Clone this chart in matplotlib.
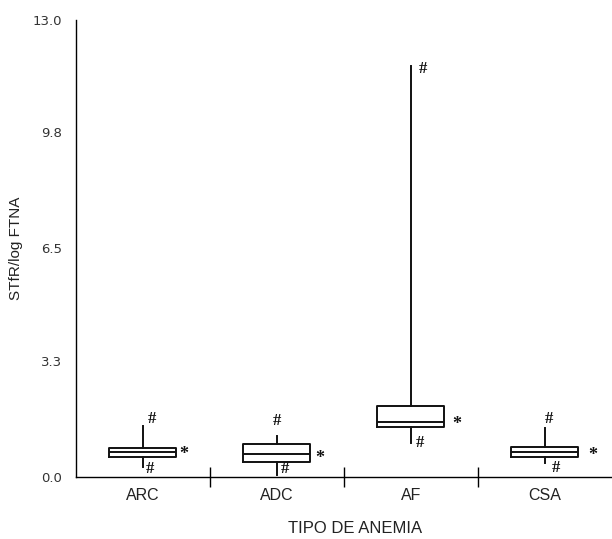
import matplotlib
matplotlib.use("Agg")
import matplotlib.pyplot as plt

# box summaries
categories = ['ARC', 'ADC', 'AF', 'CSA']
q1 = [0.56, 0.44, 1.41, 0.56]
med = [0.72, 0.65, 1.56, 0.72]
q3 = [0.83, 0.94, 2.02, 0.845]
whislo = [0.28, 0.06, 0.96, 0.41]
whishi = [1.46, 1.17, 11.69, 1.38]
ytick_vals = [0.0, 3.3, 6.5, 9.8, 13.0]

# where the marks sit next to whisker ends / boxes (pixels)
hi_off = [(9, 7), (0, 15), (12, -3), (4, 9)]
lo_off = [(7, -2), (8, 6), (9, 0), (11, -5)]
star_off = [(7, -3), (9, -4), (12, -2), (14, -4)]

fig = plt.figure(figsize=(6.12, 5.39), dpi=100)
ax = fig.add_axes([0.124, 0.115, 0.876, 0.848])

stats = []
for i, c in enumerate(categories):
    stats.append(dict(label=c, q1=q1[i], med=med[i], q3=q3[i],
                      whislo=whislo[i], whishi=whishi[i], fliers=[]))
pos = [i + 0.5 for i in range(len(categories))]
ax.bxp(stats, positions=pos, widths=0.5, showcaps=False, showfliers=False,
       boxprops=dict(color='#111111', linewidth=1.4),
       medianprops=dict(color='#111111', linewidth=1.4),
       whiskerprops=dict(color='#111111', linewidth=1.4))

ser = dict(family='Liberation Serif', fontweight='bold', color='#111111',
           ha='center', va='center', textcoords='offset pixels')
for i in range(len(categories)):
    ax.annotate('#', (pos[i], whishi[i]), xytext=hi_off[i], fontsize=12, **ser)
    ax.annotate('#', (pos[i], whislo[i]), xytext=lo_off[i], fontsize=12, **ser)
    ax.annotate('*', (pos[i] + 0.25, med[i]), xytext=star_off[i], fontsize=13, **ser)

ax.set_xlim(0, 4)
ax.set_ylim(0, 13.0)
for s in ['top', 'right']:
    ax.spines[s].set_visible(False)
ax.spines['left'].set_linewidth(1.0)
ax.spines['bottom'].set_linewidth(1.0)

ax.set_yticks(ytick_vals)
ax.set_yticklabels(['%.1f' % v for v in ytick_vals])
ax.tick_params(axis='y', length=0, pad=10, labelsize=9.5, labelcolor='#333333')
for t in ax.get_yticklabels():
    t.set_family('DejaVu Sans')

ax.set_xticks([1, 2, 3])
ax.set_xticklabels([])
ax.tick_params(axis='x', which='major', direction='inout', length=14, width=1.0)
ax.set_xticks(pos, minor=True)
ax.set_xticklabels(categories, minor=True)
ax.tick_params(axis='x', which='minor', length=0, pad=8, labelsize=11.5, labelcolor='#222222')
for t in ax.get_xticklabels(minor=True):
    t.set_family('Liberation Sans')

ax.set_xlabel('TIPO DE ANEMIA', family='Liberation Sans', fontsize=12, color='#222222')
ax.xaxis.set_label_coords(0.52, -0.097)
ax.set_ylabel('STfR/log FTNA', family='Liberation Sans', fontsize=11, color='#222222')
ax.yaxis.set_label_coords(-0.098, 0.5)

fig.savefig('out.png', dpi=100)
